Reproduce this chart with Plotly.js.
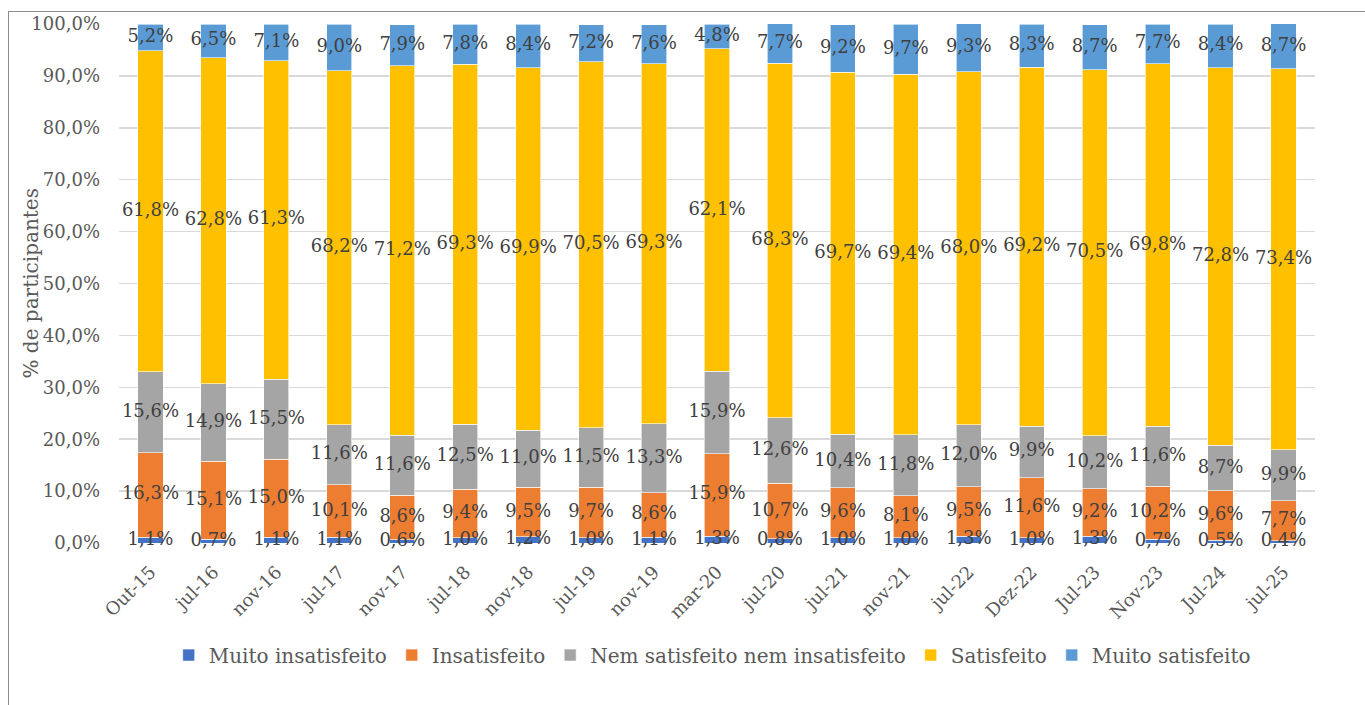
<!DOCTYPE html>
<html>
<head>
<meta charset="utf-8">
<script src="https://cdn.plot.ly/plotly-3.0.1.min.js"></script>
<style>
html,body{margin:0;padding:0;background:#fff;}
#wrap{position:relative;width:1365px;height:705px;overflow:hidden;}
#chart{position:absolute;left:0;top:0;width:1365px;height:705px;}
#frame{position:absolute;left:8px;top:11px;width:1400px;height:800px;border-left:1px solid #8c8c8c;border-top:1px solid #8c8c8c;pointer-events:none;}
</style>
</head>
<body>
<div id="wrap"><div id="chart"></div><div id="frame"></div></div>
<script>
const categories = ['Out-15','jul-16','nov-16','jul-17','nov-17','jul-18','nov-18','jul-19','nov-19','mar-20','jul-20','jul-21','nov-21','jul-22','Dez-22','Jul-23','Nov-23','Jul-24','jul-25'];
const muitoInsatisfeito = [1.1,0.7,1.1,1.1,0.6,1.0,1.2,1.0,1.1,1.3,0.8,1.0,1.0,1.3,1.0,1.3,0.7,0.5,0.4];
const insatisfeito = [16.3,15.1,15.0,10.1,8.6,9.4,9.5,9.7,8.6,15.9,10.7,9.6,8.1,9.5,11.6,9.2,10.2,9.6,7.7];
const nemNem = [15.6,14.9,15.5,11.6,11.6,12.5,11.0,11.5,13.3,15.9,12.6,10.4,11.8,12.0,9.9,10.2,11.6,8.7,9.9];
const satisfeito = [61.8,62.8,61.3,68.2,71.2,69.3,69.9,70.5,69.3,62.1,68.3,69.7,69.4,68.0,69.2,70.5,69.8,72.8,73.4];
const muitoSatisfeito = [5.2,6.5,7.1,9.0,7.9,7.8,8.4,7.2,7.6,4.8,7.7,9.2,9.7,9.3,8.3,8.7,7.7,8.4,8.7];
const yTicks = [0,10,20,30,40,50,60,70,80,90,100];
const yTickText = yTicks.map(v => v.toFixed(1).replace('.', ',') + '%');

const FONT = 'DejaVu Serif, serif';
const series = [
  {name:'Muito insatisfeito', y:muitoInsatisfeito, color:'#4472C4'},
  {name:'Insatisfeito', y:insatisfeito, color:'#ED7D31'},
  {name:'Nem satisfeito nem insatisfeito', y:nemNem, color:'#A5A5A5'},
  {name:'Satisfeito', y:satisfeito, color:'#FFC000'},
  {name:'Muito satisfeito', y:muitoSatisfeito, color:'#5B9BD5'}
];

const barTraces = series.map(s => ({
  type:'bar',
  name:s.name,
  x:categories,
  y:s.y,
  marker:{color:s.color, line:{color:'#ffffff', width:0.6}},
  hoverinfo:'skip'
}));

// data labels centred on each segment, positioned through the y axis
const base = categories.map(() => 0);
const labelTraces = series.map(s => {
  const mids = s.y.map((v, i) => base[i] + v / 2);
  s.y.forEach((v, i) => { base[i] += v; });
  return {
    type:'scatter',
    mode:'text',
    x:categories,
    y:mids,
    text:s.y.map(v => v.toFixed(1).replace('.', ',') + '%'),
    textposition:'middle center',
    textfont:{family:FONT, size:18, color:'#404040'},
    cliponaxis:false,
    showlegend:false,
    hoverinfo:'skip'
  };
});

const layout = {
  barmode:'stack',
  bargap:0.6,
  width:1365,
  height:705,
  margin:{l:119, r:50, t:24, b:162},
  paper_bgcolor:'rgba(0,0,0,0)',
  plot_bgcolor:'#ffffff',
  font:{family:FONT, size:18, color:'#595959'},
  xaxis:{
    type:'category',
    range:[-0.5, categories.length - 0.5],
    tickangle:-45,
    tickfont:{family:FONT, size:18, color:'#595959'},
    showgrid:false,
    showline:false,
    ticks:'',
    ticklabelstandoff:14,
    automargin:false
  },
  yaxis:{
    range:[0,100],
    tickvals:yTicks,
    ticktext:yTickText,
    tickfont:{family:FONT, size:18, color:'#595959'},
    gridcolor:'#d9d9d9',
    gridwidth:1.5,
    zeroline:false,
    showline:false,
    ticks:'',
    ticklabelstandoff:18,
    automargin:false
  },
  annotations:[{
    text:'% de participantes',
    xref:'paper', yref:'paper',
    x:-0.0744, y:0.5,
    xanchor:'center', yanchor:'middle',
    textangle:-90,
    showarrow:false,
    font:{family:FONT, size:20, color:'#595959'}
  }],
  legend:{
    orientation:'h',
    x:0.496, xanchor:'center',
    y:-0.216, yanchor:'middle',
    font:{family:FONT, size:20, color:'#595959'},
    traceorder:'normal',
    itemwidth:30
  },
  showlegend:true
};

Plotly.newPlot('chart', barTraces.concat(labelTraces), layout, {displayModeBar:false, staticPlot:true});
</script>
</body>
</html>
